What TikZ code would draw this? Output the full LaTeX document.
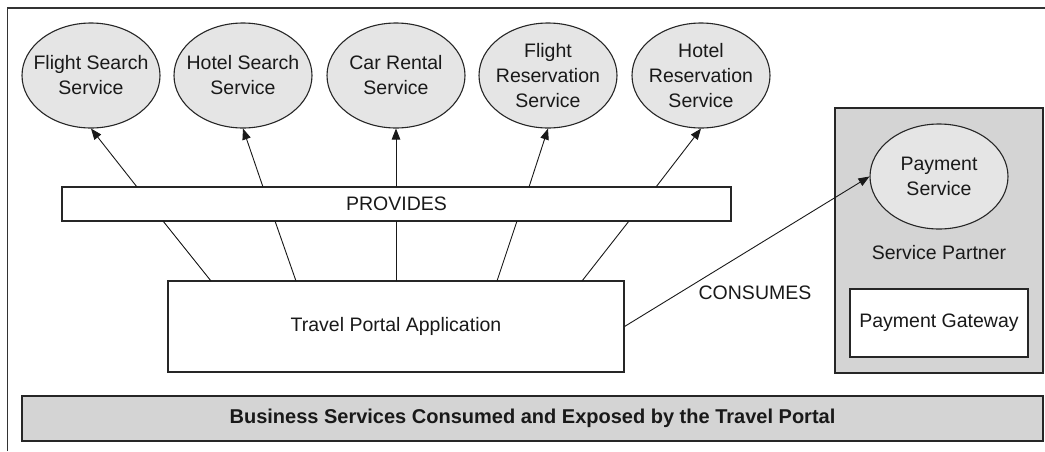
\documentclass[tikz,border=0pt]{standalone}
\usepackage{fontspec}
\setmainfont{Liberation Sans}
\usetikzlibrary{arrows.meta,shapes.geometric}
\begin{document}
\begin{tikzpicture}[x=1pt,y=-1pt,
  every node/.style={font=\fontsize{19.5}{25}\selectfont, text=black!90},
  svc/.style={ellipse, draw=black!85, line width=1.1pt, fill=black!10,
    minimum width=138pt, minimum height=105pt, inner xsep=-20pt, inner ysep=-10pt, align=center},
  box/.style={draw=black!85, line width=1.1pt, fill=white, inner sep=0pt},
  graybox/.style={box, fill=black!17},
  link/.style={draw=black!90, line width=0.9pt},
  arr/.style={link, -{Triangle[length=11pt,width=8.5pt]}},
  lbl/.style={inner sep=0pt}
]
\useasboundingbox (0,0) rectangle (1045,451);
\draw[line width=1.1pt, black!80] (7.5,451) -- (7.5,8) -- (1045,8);

% service ellipses
\node[svc] (fs) at (91,75.5) {Flight Search\\Service};
\node[svc] (hs) at (243,75.5) {Hotel Search\\Service};
\node[svc] (cr) at (396,75.5) {Car Rental\\Service};
\node[svc] (fr) at (548,75.5) {Flight\\Reservation\\Service};
\node[svc] (hr) at (701,75.5) {Hotel\\Reservation\\Service};

% provides bar and application
\node[box, minimum width=669pt, minimum height=34pt] (prov) at (396.5,204) {PROVIDES};
\node[box, minimum width=456pt, minimum height=91pt] (app) at (396,326.5) {Travel Portal Application};

% service partner
\node[graybox, minimum width=208pt, minimum height=265pt] (partner) at (939,240.5) {};
\node[svc] (pay) at (939,176.5) {Payment\\Service};
\node[lbl] (plabel) at (939,253) {Service Partner};
\node[box, minimum width=178pt, minimum height=68pt] (gw) at (939,323) {Payment Gateway};

% bottom bar
\node[graybox, minimum width=1021pt, minimum height=45pt,
  font=\fontsize{20}{24}\selectfont\bfseries] (bar) at (532.5,418.5)
  {Business Services Consumed and Exposed by the Travel Portal};

% connector anchor points
\coordinate (u1) at (137,187);
\coordinate (u2) at (263,187);
\coordinate (u3) at (396,187);
\coordinate (u4) at (529,187);
\coordinate (u5) at (656,187);
\coordinate (l1) at (163,221);
\coordinate (l2) at (275,221);
\coordinate (l3) at (396,221);
\coordinate (l4) at (517,221);
\coordinate (l5) at (629,221);
\coordinate (t1) at (211,281);
\coordinate (t2) at (296,281);
\coordinate (t3) at (396,281);
\coordinate (t4) at (497,281);
\coordinate (t5) at (582,281);

\draw[arr] (u1) -- (fs.south);
\draw[arr] (u2) -- (hs.south);
\draw[arr] (u3) -- (cr.south);
\draw[arr] (u4) -- (fr.south);
\draw[arr] (u5) -- (hr.south);

\draw[link] (t1) -- (l1);
\draw[link] (t2) -- (l2);
\draw[link] (t3) -- (l3);
\draw[link] (t4) -- (l4);
\draw[link] (t5) -- (l5);

\draw[arr] (app.east) -- (pay.west);
\node[lbl] (cons) at (755,293) {CONSUMES};
\end{tikzpicture}
\end{document}
